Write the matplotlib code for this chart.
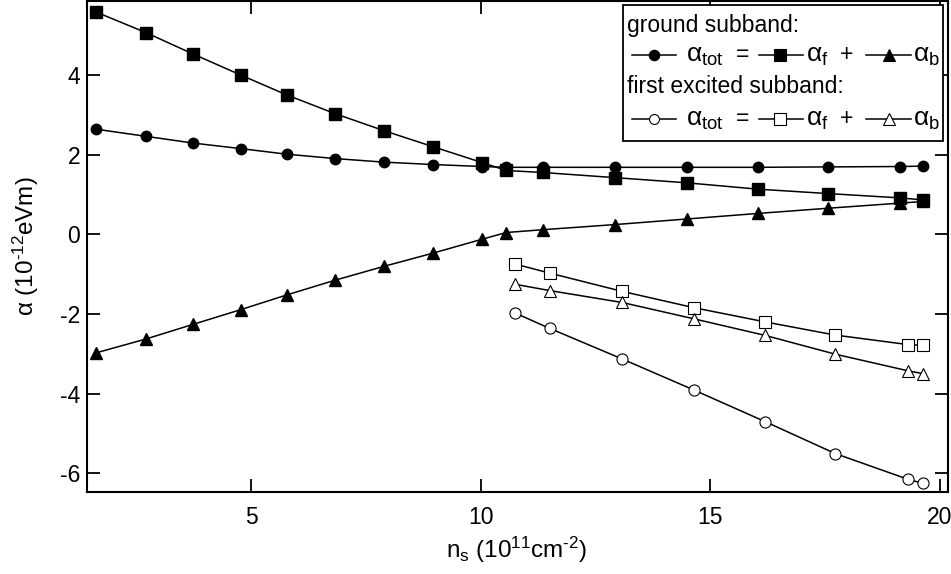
import matplotlib.pyplot as plt
from matplotlib.lines import Line2D
from matplotlib.patches import Rectangle

plt.rcParams['font.family'] = ['Liberation Sans', 'DejaVu Sans']
plt.rcParams['mathtext.fontset'] = 'custom'
plt.rcParams['mathtext.rm'] = 'Liberation Sans'
plt.rcParams['mathtext.it'] = 'Liberation Sans'
plt.rcParams['mathtext.bf'] = 'Liberation Sans'

# ground subband
ns_ground = [1.62, 2.71, 3.74, 4.78, 5.78, 6.83, 7.90, 8.96, 10.03, 10.56,
             11.35, 12.93, 14.49, 16.04, 17.56, 19.14, 19.63]
tot_ground = [2.65, 2.47, 2.30, 2.16, 2.02, 1.91, 1.82, 1.76, 1.71, 1.69,
              1.69, 1.69, 1.69, 1.69, 1.70, 1.71, 1.72]
f_ground = [5.60, 5.08, 4.54, 4.01, 3.51, 3.04, 2.61, 2.21, 1.81, 1.61,
            1.56, 1.43, 1.30, 1.14, 1.03, 0.92, 0.87]
b_ground = [-2.98, -2.63, -2.26, -1.89, -1.52, -1.15, -0.80, -0.47, -0.12, 0.05,
            0.12, 0.25, 0.39, 0.53, 0.66, 0.79, 0.83]

# first excited subband
ns_exc = [10.74, 11.50, 13.08, 14.64, 16.20, 17.72, 19.31, 19.63]
tot_exc = [-1.97, -2.36, -3.13, -3.91, -4.71, -5.51, -6.16, -6.26]
f_exc = [-0.74, -0.97, -1.43, -1.84, -2.20, -2.53, -2.77, -2.79]
b_exc = [-1.25, -1.41, -1.71, -2.12, -2.54, -3.01, -3.43, -3.50]

fig = plt.figure(figsize=(9.51, 5.74), dpi=100)
ax = fig.add_axes([0.0915, 0.1434, 0.9055, 0.8546])

lw = 1.1
ax.plot(ns_ground, tot_ground, '-o', color='black', lw=lw, ms=7.5)
ax.plot(ns_ground, f_ground, '-s', color='black', lw=lw, ms=8.5)
ax.plot(ns_ground, b_ground, '-^', color='black', lw=lw, ms=9)
ax.plot(ns_exc, tot_exc, '-o', color='black', lw=lw, ms=8, mfc='white', mew=0.8)
ax.plot(ns_exc, f_exc, '-s', color='black', lw=lw, ms=8, mfc='white', mew=0.8)
ax.plot(ns_exc, b_exc, '-^', color='black', lw=lw, ms=8.5, mfc='white', mew=0.8)

ax.set_xlim(1.43, 20.18)
ax.set_ylim(-6.47, 5.87)
ax.set_xticks([5, 10, 15, 20])
ax.set_yticks([-6, -4, -2, 0, 2, 4])
ax.set_yticklabels(['-6', '-4', '-2', '0', '2', '4'])
ax.tick_params(direction='in', length=9.5, width=1.3, labelsize=16.5,
               top=True, right=True)
ax.tick_params(axis='x', pad=10)
ax.tick_params(axis='y', pad=5)
for s in ax.spines.values():
    s.set_linewidth(1.5)

ax.set_xlabel(r'n$_{\rm s}$ (10$^{11}$cm$^{\text{-2}}$)', fontsize=17.5)
ax.set_ylabel(r'$\alpha$ (10$^{\text{-12}}$eVm)', fontsize=17.5)
ax.xaxis.set_label_coords(0.499, -0.088)
ax.yaxis.set_label_coords(-0.053, 0.50)

# hand-built legend
T = ax.transAxes
def px(x, y):
    return ((x - 87) / 861.0, (491.7 - y) / 490.5)

x0, y0 = px(623, 141)
x1, y1 = px(943, 5)
ax.add_patch(Rectangle((x0, y0), x1 - x0, y1 - y0, transform=T,
                       facecolor='white', edgecolor='black', lw=1.3, zorder=5))

def entry(xa, xb, xm, y, marker, ms, mfc):
    a = px(xa, y)
    b = px(xb, y)
    m = px(xm, y)
    ax.add_line(Line2D([a[0], b[0]], [a[1], b[1]], transform=T, color='black',
                       lw=lw, zorder=6))
    ax.add_line(Line2D([m[0]], [m[1]], transform=T, marker=marker, ms=ms,
                       color='black', mfc=mfc, mew=0.8, zorder=7))

def txt(x, y, s, size=16.5):
    p = px(x, y)
    ax.text(p[0], p[1], s, transform=T, fontsize=size, va='center', ha='left', zorder=7)

txt(627, 26, 'ground subband:')
txt(627, 87, 'first excited subband:')
for y, fill, sc in [(55, 'black', 1.0), (119, 'white', 0.95)]:
    entry(632, 676, 654, y, 'o', 7.5 * sc, fill)
    txt(686, y + 1, r'$\alpha_{\rm tot}$', 19)
    txt(736, y, '=')
    entry(759, 803, 780, y, 's', 8.5 * sc, fill)
    txt(806, y + 1, r'$\alpha_{\rm f}$', 19)
    txt(840, y, '+')
    entry(866, 911, 889, y, '^', 9 * sc, fill)
    txt(913, y + 1, r'$\alpha_{\rm b}$', 19)

fig.savefig('out.png', dpi=100)
